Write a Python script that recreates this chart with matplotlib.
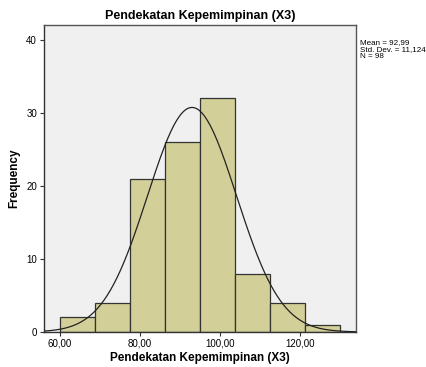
import numpy as np
from matplotlib import pyplot as plt

plt.rcParams['font.family'] = ['Liberation Sans', 'DejaVu Sans']

# histogram bins and counts
bin_edges = [60.0, 68.75, 77.5, 86.25, 95.0, 103.75, 112.5, 121.25, 130.0]
counts = [2, 4, 21, 26, 32, 8, 4, 1]
mean = 92.99
std = 11.124
n = 98

xticks = [60, 80, 100, 120]
xtick_labels = ["60,00", "80,00", "100,00", "120,00"]
yticks = [0, 10, 20, 30, 40]

fig = plt.figure(figsize=(4.27, 3.67), dpi=100)
ax = fig.add_axes([0.103, 0.0954, 0.731, 0.8366])
ax.set_facecolor('#f0f0f0')

widths = np.diff(bin_edges)
ax.bar(bin_edges[:-1], counts, width=widths, align='edge',
       color='#d3cf98', edgecolor='#333333', linewidth=0.9, zorder=2)

# normal curve scaled to the histogram
xs = np.linspace(56, 134, 400)
bw = widths[0]
ys = n * bw / (std * np.sqrt(2 * np.pi)) * np.exp(-0.5 * ((xs - mean) / std) ** 2)
ax.plot(xs, ys, color='#222222', linewidth=0.9, zorder=3)

ax.set_xlim(56, 134)
ax.set_ylim(0, 42.05)
ax.set_xticks(xticks)
ax.set_xticklabels(xtick_labels)
ax.set_yticks(yticks)
ax.tick_params(labelsize=7, length=3, width=0.8, color='#333333', pad=2)

for side in ['top', 'right']:
    ax.spines[side].set_color('#555555')
    ax.spines[side].set_linewidth(1.0)
for side in ['left', 'bottom']:
    ax.spines[side].set_color('#333333')
    ax.spines[side].set_linewidth(1.0)

ax.set_title("Pendekatan Kepemimpinan (X3)", fontsize=9, fontweight='bold', pad=4)
ax.set_xlabel("Pendekatan Kepemimpinan (X3)", fontsize=8.5, fontweight='bold', labelpad=2)
ax.set_ylabel("Frequency", fontsize=8.5, fontweight='bold', labelpad=4)

fig.text(0.843, 0.893, "Mean = 92,99\nStd. Dev. = 11,124\nN = 98",
         fontsize=5.8, va='top', ha='left', linespacing=1.0)

plt.savefig('out.png', dpi=100)
